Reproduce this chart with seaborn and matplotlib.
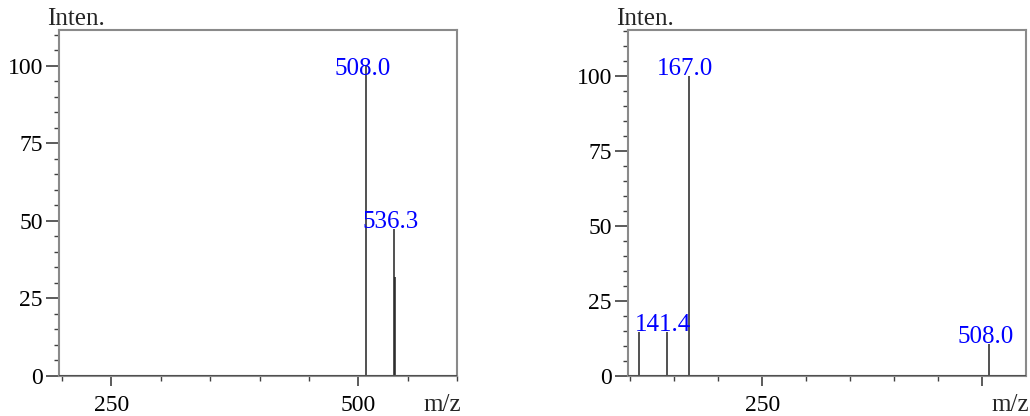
import numpy as np
import matplotlib
matplotlib.use("Agg")
import matplotlib.pyplot as plt
import seaborn as sns

# spectrum 1 (left)
mz_left = [508.0, 536.3, 537.3]
int_left = [100.0, 47.3, 32.0]
lab_left = ["508.0", "536.3"]

# spectrum 2 (right)
mz_right = [109.9, 141.4, 166.8, 508.0]
int_right = [14.5, 14.5, 100.0, 10.5]
lab_right = ["141.4", "167.0", "508.0"]

sns.set_theme(style="white")
plt.rcParams['font.family'] = ['Liberation Serif', 'DejaVu Serif']

fig = plt.figure(figsize=(10.3, 4.16), dpi=100)
ax1 = fig.add_axes([0.0576, 0.0969, 0.3864, 0.831])
ax2 = fig.add_axes([0.6100, 0.0969, 0.3858, 0.831])


def draw(ax, mz, inten, labels, xlim, ylim, xmajor, xlabels, nudge):
    ax.vlines(mz, 0, inten, colors="#222222", linewidth=1.1)
    ax.axhline(0, color="#505050", linewidth=2.2, zorder=3)
    ax.set_xticks(xmajor)
    ax.set_xticklabels(xlabels)
    ax.set_xticks(np.arange(100, 601, 50), minor=True)
    ax.set_yticks([0, 25, 50, 75, 100])
    ax.set_yticks(np.arange(0, ylim[1], 5), minor=True)
    # set limits after ticks so the minor ticks don't widen the view
    ax.set_xlim(*xlim)
    ax.set_ylim(*ylim)
    ax.tick_params(axis="both", which="both", direction="out", colors="#404040",
                   labelcolor="black", labelsize=17, left=True, bottom=True)
    ax.tick_params(axis="y", which="major", length=9.1, width=1.2, pad=2.7)
    ax.tick_params(axis="y", which="minor", length=3.8, width=1.0)
    ax.tick_params(axis="x", which="major", length=7.2, width=1.2, pad=6.5)
    ax.tick_params(axis="x", which="minor", length=3.6, width=1.0)
    for s in ax.spines.values():
        s.set_color("#8a8a8a")
        s.set_linewidth(1.5)
        s.set_visible(True)
    # peak labels
    for lab in labels:
        i = min(range(len(mz)), key=lambda k: abs(mz[k] - float(lab)))
        ax.annotate(lab, xy=(mz[i], inten[i]), xytext=(-4, -4 + nudge.get(lab, 0)),
                    textcoords="offset pixels", ha="center", va="bottom",
                    color="#0000ff", fontsize=18)
    ax.annotate("Inten.", xy=(0, 1), xycoords="axes fraction", xytext=(-12, 0),
                textcoords="offset pixels", ha="left", va="bottom", fontsize=18)
    ax.annotate("m/z", xy=(1, 0), xycoords="axes fraction", xytext=(-34, -29),
                textcoords="offset pixels", ha="left", va="center", fontsize=18,
                annotation_clip=False)


draw(ax1, mz_left, int_left, lab_left, (197.6, 600), (0, 111.6),
     [250, 500], ["250", "500"], {"508.0": -10})
draw(ax2, mz_right, int_right, lab_right, (97.7, 549.5), (0, 115.5),
     [250, 500], ["250", ""], {})

fig.savefig("out.png", dpi=100)
